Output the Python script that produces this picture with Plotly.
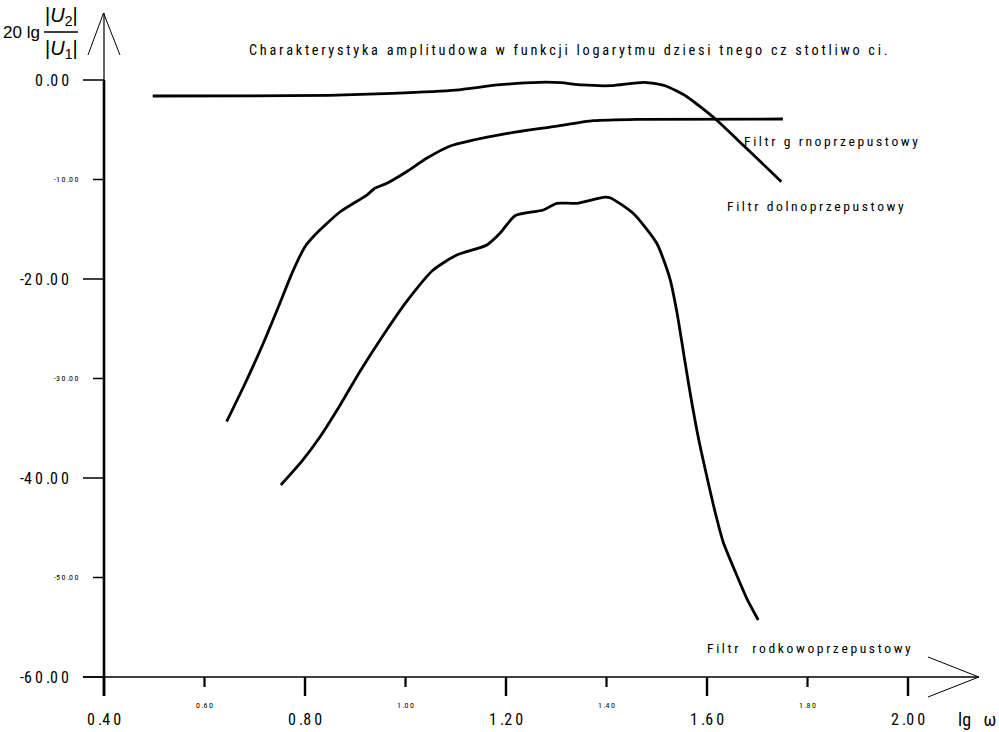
import plotly.graph_objects as go

# ---------------- data ----------------
lowpass_x = [0.497, 0.690, 0.848, 0.974, 1.100, 1.183, 1.267, 1.309, 1.351, 1.409,
             1.476, 1.518, 1.560, 1.619, 1.661, 1.703, 1.748]
lowpass_y = [-1.61, -1.60, -1.54, -1.34, -1.01, -0.50, -0.23, -0.27, -0.50, -0.57,
             -0.23, -0.60, -1.68, -4.02, -6.03, -8.04, -10.22]

highpass_x = [0.644, 0.681, 0.717, 0.750, 0.774, 0.800, 0.823, 0.870, 0.923, 0.939,
              0.963, 1.002, 1.042, 1.089, 1.135, 1.195, 1.294, 1.374, 1.460, 1.751]
highpass_y = [-34.34, -30.48, -26.46, -22.44, -19.43, -16.75, -15.41, -13.24, -11.56, -10.88,
              -10.38, -9.22, -7.87, -6.63, -6.03, -5.43, -4.69, -4.09, -3.95, -3.92]

bandpass_x = [0.752, 0.793, 0.830, 0.870, 0.909, 0.956, 1.002, 1.055, 1.102, 1.162,
              1.188, 1.218, 1.274, 1.301, 1.341, 1.394, 1.407, 1.453, 1.500, 1.526,
              1.540, 1.553, 1.566, 1.583, 1.599, 1.616, 1.632, 1.659, 1.679, 1.702]
bandpass_y = [-40.70, -38.36, -35.85, -32.66, -29.32, -25.63, -22.28, -19.10, -17.59, -16.58,
              -15.41, -13.64, -13.07, -12.39, -12.39, -11.79, -11.83, -13.40, -16.41, -19.93,
              -23.29, -27.31, -31.33, -36.01, -39.70, -43.39, -46.40, -49.75, -52.09, -54.27]

x_major_vals = [0.40, 0.80, 1.20, 1.60, 2.00]
x_major_text = ["0 .4 0", "0 .8 0", "1 .2 0", "1 .6 0", "2 .0 0"]
x_minor_vals = [0.60, 1.00, 1.40, 1.80]
x_minor_text = ["0 .6 0", "1 .0 0", "1 .4 0", "1 .8 0"]
y_major_vals = [0, -20, -40, -60]
y_major_text = ["0 .0 0", "-2 0 .0 0", "-4 0 .0 0", "-6 0 .0 0"]
y_minor_vals = [-10, -30, -50]
y_minor_text = ["-1 0 .0 0", "-3 0 .0 0", "-5 0 .0 0"]

title_text = "Charakterystyka amplitudowa w funkcji logarytmu dziesi tnego cz stotliwo ci."
label_high = "Filtr g rnoprzepustowy"
label_low = "Filtr dolnoprzepustowy"
label_band = "Filtr  rodkowoprzepustowy"

# ---------------- helpers ----------------
NB = "\u00a0"
TH = "\u2009"


def spaced(s):
    return TH.join(NB if c == " " else c for c in s)


def tick_txt(s):
    return s.replace(" ", TH)


NARROW = ("Liberation Sans Narrow, Noto Sans ExtraCondensed, Noto Sans Condensed, "
          "Roboto Condensed, DejaVu Sans Condensed, sans-serif")
W, H = 999, 732
X0, Y0 = 0.19303, 2.18109
YT, YB = 8.040, -65.528

fig = go.Figure()
for xs, ys in [(lowpass_x, lowpass_y), (highpass_x, highpass_y), (bandpass_x, bandpass_y)]:
    fig.add_trace(go.Scatter(x=xs, y=ys, mode="lines",
                             line=dict(color="black", width=2.8, shape="spline", smoothing=0.6),
                             hoverinfo="skip", showlegend=False))

shapes = []
shapes.append(dict(type="line", xref="x", yref="y", x0=0.4, x1=0.4, y0=0, y1=6.73,
                   line=dict(color="black", width=1.2)))
shapes.append(dict(type="line", xref="x", yref="y", x0=0.4, x1=0.4, y0=-61.9, y1=0,
                   line=dict(color="black", width=2.6)))
for xe in (0.3682, 0.4318):
    shapes.append(dict(type="line", xref="x", yref="y", x0=xe, y0=2.51, x1=0.399, y1=6.73,
                       line=dict(color="black", width=1)))
shapes.append(dict(type="line", xref="x", yref="y", x0=0.358, x1=2.141, y0=-60, y1=-60,
                   line=dict(color="black", width=1.4)))
for ye in (-57.99, -62.01):
    shapes.append(dict(type="line", xref="x", yref="y", x0=2.0398, y0=ye, x1=2.141, y1=-60,
                       line=dict(color="black", width=1)))
for v in y_major_vals:
    shapes.append(dict(type="line", xref="x", yref="y", xsizemode="pixel", xanchor=0.4,
                       x0=-21, x1=0, y0=v, y1=v, line=dict(color="black", width=1.5)))
for v in y_minor_vals:
    shapes.append(dict(type="line", xref="x", yref="y", xsizemode="pixel", xanchor=0.4,
                       x0=-11, x1=0, y0=v, y1=v, line=dict(color="black", width=1.5)))
for v in x_major_vals:
    shapes.append(dict(type="line", xref="x", yref="y", ysizemode="pixel", yanchor=-60,
                       y0=0, y1=-19, x0=v, x1=v, line=dict(color="black", width=2.4)))
for v in x_minor_vals:
    shapes.append(dict(type="line", xref="x", yref="y", ysizemode="pixel", yanchor=-60,
                       y0=0, y1=-10, x0=v, x1=v, line=dict(color="black", width=2.2)))
shapes.append(dict(type="line", xref="paper", yref="paper", x0=44 / W, x1=78 / W,
                   y0=1 - 32 / H, y1=1 - 32 / H, line=dict(color="black", width=1.3)))

ann = []
for v, t in zip(y_major_vals, y_major_text):
    ann.append(dict(x=0.4, y=v, xref="x", yref="y", text=tick_txt(t), showarrow=False,
                    xanchor="right", yanchor="middle", xshift=-33,
                    font=dict(family=NARROW, size=16, color="black")))
for v, t in zip(y_minor_vals, y_minor_text):
    ann.append(dict(x=0.4, y=v, xref="x", yref="y", text=tick_txt(t), showarrow=False,
                    xanchor="right", yanchor="middle", xshift=-23,
                    font=dict(family=NARROW, size=8, color="black")))
for v, t in zip(x_major_vals, x_major_text):
    ann.append(dict(x=v, y=-60, xref="x", yref="y", text=tick_txt(t), showarrow=False,
                    xanchor="center", yanchor="middle", yshift=-42,
                    font=dict(family=NARROW, size=16, color="black")))
for v, t in zip(x_minor_vals, x_minor_text):
    ann.append(dict(x=v, y=-60, xref="x", yref="y", text=tick_txt(t), showarrow=False,
                    xanchor="center", yanchor="middle", yshift=-28,
                    font=dict(family=NARROW, size=8, color="black")))

ann.append(dict(x=568 / W, y=1 - 50 / H, xref="paper", yref="paper", text=spaced(title_text),
                showarrow=False, xanchor="center", yanchor="middle",
                font=dict(family=NARROW, size=14.3, color="black")))
for txt, px, py in [(label_high, 742, 141), (label_low, 725, 206), (label_band, 705, 648)]:
    ann.append(dict(x=px / W, y=1 - py / H, xref="paper", yref="paper", text=spaced(txt),
                    showarrow=False, xanchor="left", yanchor="middle",
                    font=dict(family=NARROW, size=13.6, color="black")))
ann.append(dict(x=977 / W, y=1 - 719 / H, xref="paper", yref="paper", text="lg" + NB * 3 + "ω",
                showarrow=False, xanchor="center", yanchor="middle",
                font=dict(family=NARROW, size=18, color="black")))
ann.append(dict(x=21 / W, y=1 - 32 / H, xref="paper", yref="paper", text="20 lg",
                showarrow=False, xanchor="center", yanchor="middle",
                font=dict(family="Liberation Sans, Arial, sans-serif", size=17, color="black")))
ann.append(dict(x=61 / W, y=1 - 16 / H, xref="paper", yref="paper", text="|<i>U</i><sub>2</sub>|",
                showarrow=False, xanchor="center", yanchor="middle",
                font=dict(family="Liberation Sans, Arial, sans-serif", size=20, color="black")))
ann.append(dict(x=61 / W, y=1 - 49 / H, xref="paper", yref="paper", text="|<i>U</i><sub>1</sub>|",
                showarrow=False, xanchor="center", yanchor="middle",
                font=dict(family="Liberation Sans, Arial, sans-serif", size=20, color="black")))

fig.update_layout(
    width=W, height=H, autosize=False,
    margin=dict(l=0, r=0, t=0, b=0, pad=0),
    paper_bgcolor="white", plot_bgcolor="white",
    xaxis=dict(range=[X0, Y0], visible=False, fixedrange=True),
    yaxis=dict(range=[YB, YT], visible=False, fixedrange=True),
    shapes=shapes, annotations=ann, showlegend=False,
)
fig.write_html("out.html")
